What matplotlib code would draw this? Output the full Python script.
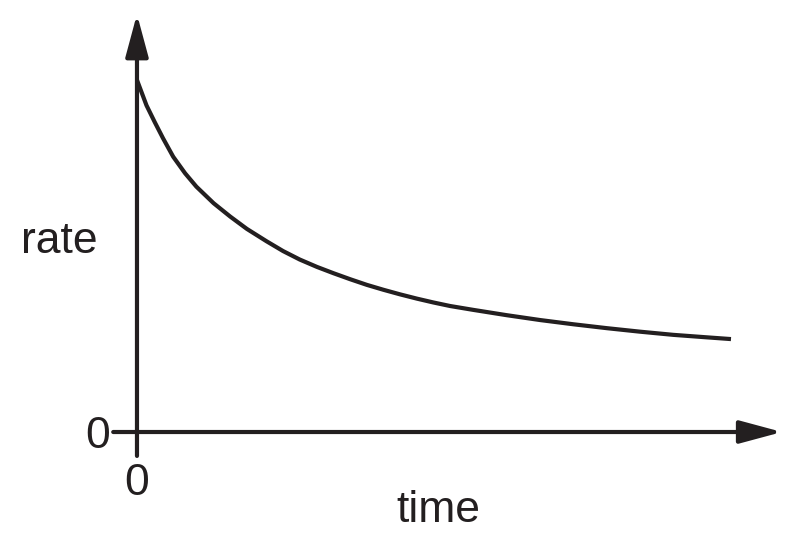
import matplotlib
matplotlib.use("Agg")
import matplotlib.pyplot as plt

# values
time = [0.0, 0.16, 0.30, 0.44, 0.61, 0.81, 1.00, 1.29, 1.57, 1.85,
        2.18, 2.46, 2.74, 3.03, 3.31, 3.59, 3.87, 4.15, 4.43,
        4.71, 4.99, 5.27, 5.66, 6.22, 6.79, 7.35, 7.91, 8.47, 9.03,
        9.59, 10.0]
rate = [10.0, 9.28, 8.80, 8.34, 7.82, 7.35, 6.97, 6.50, 6.12, 5.77,
        5.42, 5.14, 4.90, 4.69, 4.51, 4.34, 4.18, 4.04, 3.91,
        3.79, 3.68, 3.58, 3.47, 3.32, 3.18, 3.06, 2.95, 2.85, 2.76,
        2.69, 2.64]
x_label = "time"
y_label = "rate"
tick_label = "0"

ink = "#231f20"
plt.rcParams['font.family'] = ['Liberation Sans', 'DejaVu Sans']

fig = plt.figure(figsize=(7.99, 5.45), dpi=100)
ax = fig.add_axes([0, 0, 1, 1])
ax.set_xlim(-2.306, 11.145)
ax.set_ylim(-3.210, 12.273)
ax.axis("off")

# axes with arrow heads
arrow = dict(arrowstyle="-|>,head_length=26,head_width=7", lw=3,
             color=ink, mutation_scale=1, shrinkA=0, shrinkB=0)
ax.annotate("", xy=(0, 11.87), xytext=(0, -0.68), arrowprops=arrow)
ax.annotate("", xy=(10.86, 0), xytext=(-0.40, 0), arrowprops=arrow)

ax.plot(time, rate, color=ink, lw=3, solid_capstyle="butt", solid_joinstyle="round")

ax.text(-0.67, -0.45, tick_label, fontsize=32, color=ink, ha="center", va="baseline")
ax.text(0, -1.79, tick_label, fontsize=32, color=ink, ha="center", va="baseline")
ax.text(-1.30, 5.09, y_label, fontsize=32, color=ink, ha="center", va="baseline")
ax.text(5.08, -2.56, x_label, fontsize=32, color=ink, ha="center", va="baseline")

fig.savefig("out.png", dpi=100)
